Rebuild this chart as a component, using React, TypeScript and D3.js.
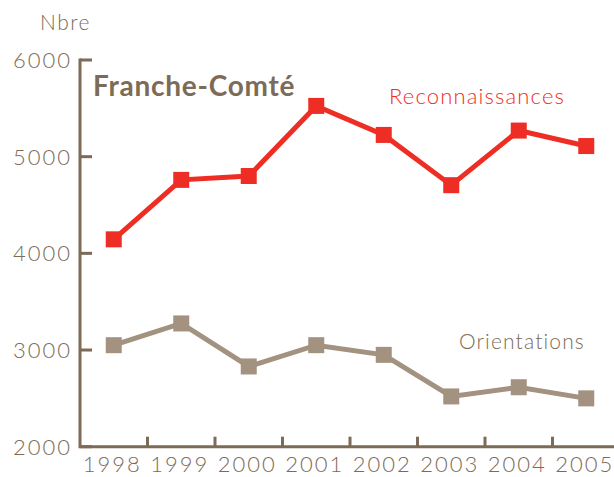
import React from "react";
import * as d3 from "d3";

const years = ["1998", "1999", "2000", "2001", "2002", "2003", "2004", "2005"];
const reconnaissances = [4145, 4760, 4800, 5525, 5225, 4705, 5270, 5110];
const orientations = [3050, 3275, 2830, 3050, 2950, 2520, 2615, 2500];
const yTicks = [2000, 3000, 4000, 5000, 6000];

const AXIS = "#7B6B57";
const RED = "#EE2E24";
const GRAY = "#A39280";
const FONT = "Lato, 'Open Sans', sans-serif";

export default function App() {
  const width = 614;
  const height = 477;
  const x = d3.scaleBand<string>().domain(years).range([80, 620]).padding(0);
  const y = d3.scaleLinear().domain([2000, 6000]).range([446.7, 60]);
  const cx = (d: string) => (x(d) as number) + x.bandwidth() / 2;
  const line = d3
    .line<number>()
    .x((_, i) => cx(years[i]))
    .y((v) => y(v));
  const ms = 16;

  return (
    <svg
      width={width}
      height={height}
      style={{ position: "absolute", left: 0, top: 0, background: "#fff" }}
      fontFamily={FONT}
    >
      <text x={40} y={30} fontSize={21} fontWeight={300} letterSpacing={1.5} fill={AXIS}>
        Nbre
      </text>
      {yTicks.map((t) => (
        <g key={t}>
          <line x1={80} x2={92} y1={y(t)} y2={y(t)} stroke={AXIS} strokeWidth={3} />
          <text
            x={72}
            y={y(t)}
            dy="0.36em"
            fontSize={22}
            fontWeight={300}
            letterSpacing={2}
            fill={AXIS}
            textAnchor="end"
          >
            {t}
          </text>
        </g>
      ))}
      {years.slice(1).map((yr) => (
        <line
          key={yr}
          x1={x(yr) as number}
          x2={x(yr) as number}
          y1={y(2000)}
          y2={y(2000) - 10}
          stroke={AXIS}
          strokeWidth={3}
        />
      ))}
      <path
        d={`M80,${y(6000) - 1.5}V${y(2000)}H${width}`}
        fill="none"
        stroke={AXIS}
        strokeWidth={3}
      />
      {years.map((yr) => (
        <text
          key={yr}
          x={cx(yr) - 1.5}
          y={472}
          fontSize={22}
          fontWeight={300}
          letterSpacing={2}
          fill={AXIS}
          textAnchor="middle"
        >
          {yr}
        </text>
      ))}
      <text x={93} y={96} fontSize={28} fontWeight="bold" letterSpacing={0.75} fill={AXIS}>
        Franche-Comté
      </text>
      <path d={line(orientations) || ""} fill="none" stroke={GRAY} strokeWidth={5} />
      {orientations.map((v, i) => (
        <rect key={i} x={cx(years[i]) - ms / 2} y={y(v) - ms / 2} width={ms} height={ms} fill={GRAY} />
      ))}
      <path d={line(reconnaissances) || ""} fill="none" stroke={RED} strokeWidth={5} />
      {reconnaissances.map((v, i) => (
        <rect key={i} x={cx(years[i]) - ms / 2} y={y(v) - ms / 2} width={ms} height={ms} fill={RED} />
      ))}
      <text x={389} y={104} fontSize={22} fontWeight={300} letterSpacing={1.15} fill={RED}>
        Reconnaissances
      </text>
      <text x={459} y={349} fontSize={21} fontWeight={300} letterSpacing={1.15} fill={AXIS}>
        Orientations
      </text>
    </svg>
  );
}
